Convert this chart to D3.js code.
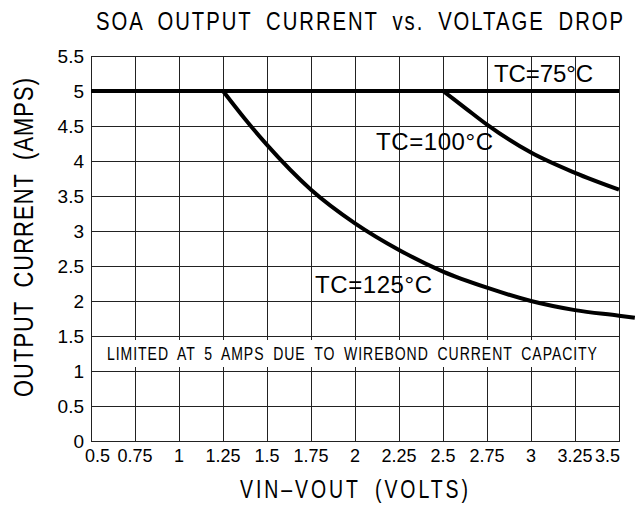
<!DOCTYPE html>
<html>
<head>
<meta charset="utf-8">
<script src="https://cdn.jsdelivr.net/npm/d3@7"></script>
<style>
  html, body { margin: 0; padding: 0; background: #fff; }
  svg { display: block; }
  text { font-family: "Liberation Sans", Arial, sans-serif; fill: #000; }
</style>
</head>
<body>
<div id="chart"></div>
<script>
// tick values and labels
var xTicks = [0.5, 0.75, 1, 1.25, 1.5, 1.75, 2, 2.25, 2.5, 2.75, 3, 3.25, 3.5];
var xTickLabels = ["0.5", "0.75", "1", "1.25", "1.5", "1.75", "2", "2.25", "2.5", "2.75", "3", "3.25", "3.5"];
var yTicks = [0, 0.5, 1, 1.5, 2, 2.5, 3, 3.5, 4, 4.5, 5, 5.5];
var yTickLabels = ["0", "0.5", "1", "1.5", "2", "2.5", "3", "3.5", "4", "4.5", "5", "5.5"];

// curves (volts, amps)
var tc75Volts = [0.5, 3.5];
var tc75Amps = [5, 5];
var tc100Volts = [2.5, 2.625, 2.75, 3.0, 3.25, 3.5];
var tc100Amps = [5, 4.76, 4.52, 4.12, 3.83, 3.59];
var tc125Volts = [1.25, 1.375, 1.5, 1.75, 2.0, 2.25, 2.5, 2.75, 3.0, 3.25, 3.5, 3.59];
var tc125Amps = [5, 4.6, 4.23, 3.59, 3.11, 2.73, 2.42, 2.19, 2.0, 1.87, 1.79, 1.76];

var width = 636, height = 508;
var x = d3.scaleLinear().domain([0.5, 3.5]).range([91, 619]);
var y = d3.scaleLinear().domain([0, 5.5]).range([441, 56]);

var svg = d3.select('#chart').append('svg')
  .attr('width', width)
  .attr('height', height);

// narrow "cad" lettering: squeezed Arial, spread to a given width
function cadText(str, px, py, size, len, rot, ws) {
  var sx = 0.78;
  var g = svg.append('g')
    .attr('transform', 'translate(' + px + ',' + py + ')' + (rot ? ' rotate(' + rot + ')' : '') + ' scale(' + sx + ',1)');
  g.append('text')
    .attr('font-size', size)
    .attr('word-spacing', ws || 0)
    .attr('textLength', len / sx)
    .attr('lengthAdjust', 'spacing')
    .text(str);
}

// grid
var grid = svg.append('g').attr('shape-rendering', 'crispEdges')
  .attr('stroke', '#222').attr('stroke-width', 1);
grid.selectAll('.vx').data(xTicks).enter().append('line')
  .attr('x1', function(d) { return x(d); }).attr('x2', function(d) { return x(d); })
  .attr('y1', y(0)).attr('y2', y(5.5));
grid.selectAll('.hy').data(yTicks).enter().append('line')
  .attr('x1', x(0.5)).attr('x2', x(3.5))
  .attr('y1', function(d) { return y(d); }).attr('y2', function(d) { return y(d); });
grid.append('rect')
  .attr('x', x(0.5)).attr('y', y(5.5))
  .attr('width', x(3.5) - x(0.5)).attr('height', y(0) - y(5.5))
  .attr('fill', 'none');

// note box
svg.append('rect')
  .attr('x', 98).attr('y', 340).attr('width', 518).attr('height', 27)
  .attr('fill', '#fff');
cadText('LIMITED AT 5 AMPS DUE TO WIREBOND CURRENT CAPACITY', 107, 360, 18, 490, 0, 5);

// tick labels
svg.selectAll('.xl').data(xTicks).enter().append('text')
  .attr('x', function(d, i) {
    if (i === 0) return x(d) - 6;
    if (i === xTicks.length - 1) return x(d) + 1;
    return x(d);
  })
  .attr('y', 462)
  .attr('font-size', 18)
  .attr('text-anchor', function(d, i) {
    if (i === 0) return 'start';
    if (i === xTicks.length - 1) return 'end';
    return 'middle';
  })
  .text(function(d, i) { return xTickLabels[i]; });

svg.selectAll('.yl').data(yTicks).enter().append('text')
  .attr('x', 84)
  .attr('y', function(d) { return y(d) + 7; })
  .attr('font-size', 19)
  .attr('text-anchor', 'end')
  .text(function(d, i) { return yTickLabels[i]; });

// curves
var line = d3.line()
  .x(function(d) { return x(d[0]); })
  .y(function(d) { return y(d[1]); })
  .curve(d3.curveMonotoneX);

var series = [
  d3.zip(tc75Volts, tc75Amps),
  d3.zip(tc100Volts, tc100Amps),
  d3.zip(tc125Volts, tc125Amps)
];
svg.selectAll('.curve').data(series).enter().append('path')
  .attr('d', line)
  .attr('fill', 'none')
  .attr('stroke', '#000')
  .attr('stroke-width', 4)
  .attr('stroke-linejoin', 'miter');

// curve labels
var labels = [
  { text: 'TC=75°C', x: 494, y: 82, len: 99 },
  { text: 'TC=100°C', x: 376, y: 150, len: 117 },
  { text: 'TC=125°C', x: 315, y: 293, len: 117 }
];
svg.selectAll('.lab').data(labels).enter().append('text')
  .attr('x', function(d) { return d.x; })
  .attr('y', function(d) { return d.y; })
  .attr('font-size', 24)
  .attr('textLength', function(d) { return d.len; })
  .attr('lengthAdjust', 'spacing')
  .text(function(d) { return d.text; });

// titles
cadText('SOA OUTPUT CURRENT vs. VOLTAGE DROP', 96, 30, 26, 527, 0, 8);
cadText('VIN\u2013VOUT (VOLTS)', 240, 498, 25, 228, 0, 8);
cadText('OUTPUT CURRENT (AMPS)', 33, 397, 28, 319, -90, 8);
</script>
</body>
</html>
